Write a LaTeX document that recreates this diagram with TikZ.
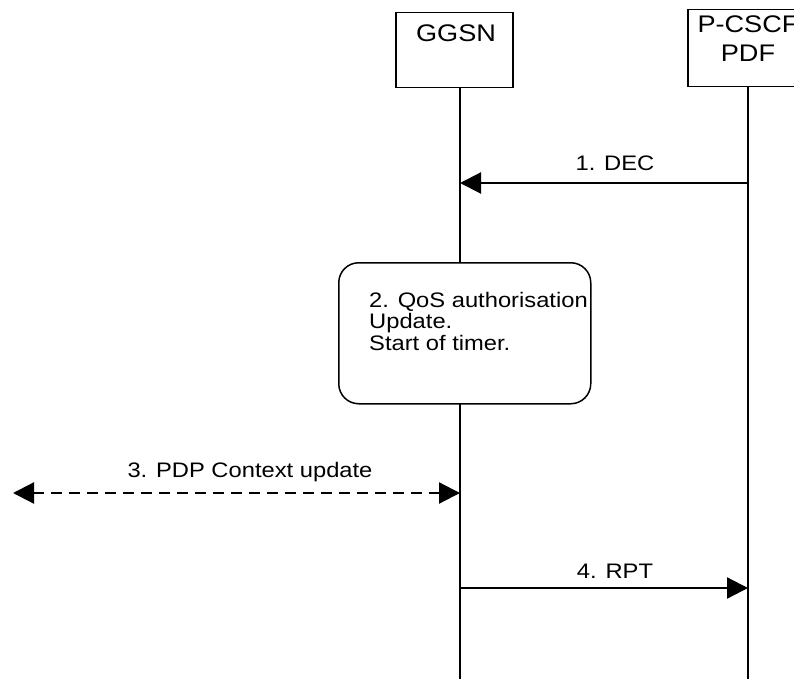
\documentclass[tikz,border=0pt]{standalone}
\usepackage{fontspec}
\setmainfont{Liberation Sans}[FakeStretch=1.13]
\usetikzlibrary{arrows.meta}
\begin{document}
\begin{tikzpicture}[x=1pt,y=-1pt,
  entity/.style={draw=black,line width=1.5pt,fill=white},
  life/.style={line width=1.8pt},
  msg/.style={line width=2.2pt,-{Triangle[length=21pt,width=21pt]}},
  bimsg/.style={line width=2.2pt,dash pattern=on 11pt off 7pt,{Triangle[length=21pt,width=21pt]}-{Triangle[length=21pt,width=21pt]}},
  lbl/.style={inner sep=0pt,anchor=base,font=\fontsize{21}{21}\selectfont},
  ttl/.style={inner sep=0pt,anchor=base,font=\fontsize{24}{24}\selectfont},
  proc/.style={draw=black,line width=1.5pt,fill=white,rounded corners=20pt}]
\useasboundingbox (0,0) rectangle (794,679);
\clip (0,0) rectangle (794,679);
% entities
\node[entity,minimum width=117pt,minimum height=75pt,anchor=north] (ggsn) at (454.5,12) {};
\node[ttl] (ggsnT) at (456,42) {GGSN};
\node[entity,minimum width=120pt,minimum height=77pt,anchor=north] (pcscf) at (748,9) {};
\node[ttl] (pcscfT1) at (748,33) {P-CSCF};
\node[ttl] (pcscfT2) at (748,62) {PDF};
% lifeline ends
\coordinate (gTop) at (460,87);
\coordinate (gBot) at (460,679);
\coordinate (pTop) at (748,86);
\coordinate (pBot) at (748,679);
\draw[life] (gTop) -- (gBot);
\draw[life] (pTop) -- (pBot);
% message points
\coordinate (p1) at (748,183);
\coordinate (g1) at (460,183);
\coordinate (g3) at (460,493);
\coordinate (l3) at (13,493);
\coordinate (g4) at (460,588);
\coordinate (p4) at (748,588);
% 1. DEC
\draw[msg] (p1) -- (g1);
\node[lbl] (dec) at (615,171) {1. DEC};
% 2. process box
\node[proc,minimum width=252pt,minimum height=141pt,anchor=north west] (qos) at (338,262) {};
\node[lbl,anchor=base west] (q1) at (369,307) {2. QoS authorisation};
\node[lbl,anchor=base west] (q2) at (369,328) {Update.};
\node[lbl,anchor=base west] (q3) at (369,350) {Start of timer.};
% 3. PDP context update
\draw[bimsg] (l3) -- (g3);
\node[lbl] (pdp) at (250,477) {3. PDP Context update};
% 4. RPT
\draw[msg] (g4) -- (p4);
\node[lbl] (rpt) at (615,578) {4. RPT};
\end{tikzpicture}
\end{document}
